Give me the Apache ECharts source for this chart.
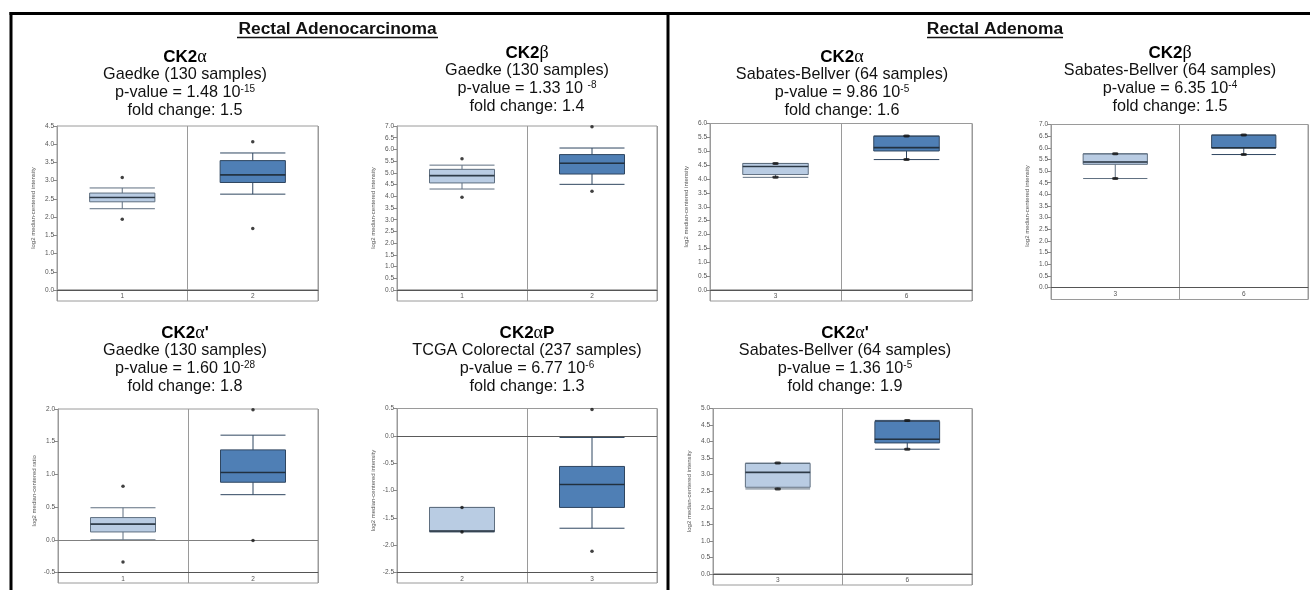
<!DOCTYPE html>
<html>
<head>
<meta charset="utf-8">
<title>CK2 subunit expression in rectal tumours</title>
<script src="https://cdn.jsdelivr.net/npm/echarts@6/dist/echarts.min.js"></script>
<style>
  html, body { margin: 0; padding: 0; background: #ffffff; }
  #chart { width: 1310px; height: 590px; }
</style>
</head>
<body>
<div id="chart"></div>
<script>
// ---- Data: one entry per panel, in reading order ----
const genes = ["CK2α", "CK2β", "CK2α", "CK2β", "CK2α'", "CK2αP", "CK2α'"];
const datasets = [
  "Gaedke (130 samples)", "Gaedke (130 samples)",
  "Sabates-Bellver (64 samples)", "Sabates-Bellver (64 samples)",
  "Gaedke (130 samples)", "TCGA Colorectal (237 samples)",
  "Sabates-Bellver (64 samples)"
];
const pValueBase = ["1.48 10", "1.33 10 ", "9.86 10", "6.35 10", "1.60 10", "6.77 10", "1.36 10"];
const pValueExponent = ["-15", "-8", "-5", "-4", "-28", "-6", "-5"];
const foldChanges = ["1.5", "1.4", "1.6", "1.5", "1.8", "1.3", "1.9"];
const classLabels = [["1", "2"], ["1", "2"], ["3", "6"], ["3", "6"], ["1", "2"], ["2", "3"], ["3", "6"]];
const yMin = [0, 0, 0, 0, -0.5, -2.5, 0];
const yMax = [4.5, 7, 6, 7, 2, 0.5, 5];
const yNames = [
  "log2 median-centered intensity", "log2 median-centered intensity",
  "log2 median-centered intensity", "log2 median-centered intensity",
  "log2 median-centered ratio", "log2 median-centered intensity",
  "log2 median-centered intensity"
];
// Box statistics [min, Q1, median, Q3, max]: normal tissue class, then tumour class
const normalBoxes = [
  [2.23, 2.42, 2.54, 2.66, 2.80],
  [4.31, 4.57, 4.88, 5.15, 5.33],
  [4.06, 4.16, 4.45, 4.56, 4.56],
  [4.68, 5.29, 5.39, 5.74, 5.74],
  [0.00, 0.12, 0.24, 0.34, 0.49],
  [-1.76, -1.75, -1.74, -1.31, -1.31],
  [2.57, 2.62, 3.07, 3.34, 3.35]
];
const tumorBoxes = [
  [2.63, 2.95, 3.16, 3.55, 3.76],
  [4.51, 4.95, 5.41, 5.78, 6.06],
  [4.70, 5.01, 5.13, 5.54, 5.55],
  [5.71, 5.99, 6.00, 6.54, 6.55],
  [0.69, 0.88, 1.03, 1.375, 1.60],
  [-1.69, -1.31, -0.89, -0.56, -0.03],
  [3.77, 3.96, 4.07, 4.61, 4.64]
];
// Extreme / outlying samples drawn as dots
const normalPoints = [[3.09, 1.94], [5.60, 3.96], [4.56, 4.06], [5.74, 4.68], [0.82, -0.34], [-1.31, -1.76], [3.35, 2.57]];
const tumorPoints = [[4.07, 1.69], [6.97, 4.21], [5.55, 4.70], [6.55, 5.71], [1.99, -0.01], [0.48, -2.11], [4.64, 3.77]];

// ---- Layout of each panel (plot box, class-label strip, title anchor, dot shape) ----
const panelLayout = [
  { left: 57,   top: 126,   width: 261, height: 164,   strip: 11,   tx: 185,  ty: 48,  dot: [3.5, 3.5] },
  { left: 397,  top: 126,   width: 260, height: 164,   strip: 11,   tx: 527,  ty: 44,  dot: [3.5, 3.5] },
  { left: 710,  top: 123.5, width: 262, height: 166.5, strip: 11,   tx: 842,  ty: 48,  dot: [6, 3] },
  { left: 1051, top: 124.5, width: 257, height: 163,   strip: 12,   tx: 1170, ty: 44,  dot: [6, 3] },
  { left: 58,   top: 409,   width: 260, height: 163.5, strip: 10.5, tx: 185,  ty: 324, dot: [3.5, 3.5] },
  { left: 397,  top: 408.5, width: 260, height: 164,   strip: 10.5, tx: 527,  ty: 324, dot: [3.5, 3.5] },
  { left: 713,  top: 408.5, width: 259, height: 165.5, strip: 11,   tx: 845,  ty: 324, dot: [6, 3] }
];

const FONT = '"Liberation Sans", Arial, Helvetica, sans-serif';
const SERIF = '"Liberation Serif", "Times New Roman", serif';
const frameGray = '#9a9a9a';
const lightFill = '#b9cce3';
const darkFill = '#4f7fb5';

const grids = [], xAxes = [], yAxes = [], series = [], titles = [];

panelLayout.forEach((L, i) => {
  const g = grids.length;
  // plot area
  grids.push({ left: L.left, top: L.top, width: L.width, height: L.height,
    show: true, borderColor: frameGray, borderWidth: 1, containLabel: false, outerBoundsMode: 'none' });
  // class-label strip below the plot
  grids.push({ left: L.left, top: L.top + L.height, width: L.width, height: L.strip,
    show: true, borderColor: frameGray, borderWidth: 1, containLabel: false, outerBoundsMode: 'none' });

  xAxes.push({
    type: 'category', gridIndex: g, data: classLabels[i], boundaryGap: true,
    axisLine: { show: true, onZero: false, lineStyle: { color: '#555', width: 1 } },
    axisTick: { show: false },
    axisLabel: { fontSize: 6.5, color: '#555', margin: 3, fontFamily: FONT },
    splitLine: { show: true, lineStyle: { color: frameGray, width: 1 } }
  });
  xAxes.push({
    type: 'category', gridIndex: g + 1, data: classLabels[i], boundaryGap: true,
    axisLine: { show: false }, axisTick: { show: false }, axisLabel: { show: false },
    splitLine: { show: true, lineStyle: { color: frameGray, width: 1 } }
  });
  yAxes.push({
    type: 'value', gridIndex: g, min: yMin[i], max: yMax[i], interval: 0.5,
    axisLine: { show: true, lineStyle: { color: frameGray } },
    axisTick: { show: true, length: 3.5, lineStyle: { color: '#888' } },
    axisLabel: { fontSize: 6.5, color: '#555', margin: 3, fontFamily: FONT,
      formatter: v => v.toFixed(1) },
    splitLine: { show: false },
    name: yNames[i], nameLocation: 'middle', nameGap: 21,
    nameTextStyle: { fontSize: 6, color: '#555', fontFamily: FONT }
  });
  yAxes.push({ type: 'value', gridIndex: g + 1, min: 0, max: 1, show: false });

  const xi = g, yi = g;
  series.push({
    type: 'boxplot', xAxisIndex: xi, yAxisIndex: yi,
    boxWidth: ['50%', '50%'],
    data: [
      { value: normalBoxes[i], itemStyle: { color: lightFill, borderColor: '#5f6f80', borderWidth: 1 } },
      { value: tumorBoxes[i], itemStyle: { color: darkFill, borderColor: '#2f4660', borderWidth: 1 } }
    ],
    silent: true
  });
  // median stroke across each box (box is half of the class band wide)
  const boxPx = L.width / classLabels[i].length * 0.5;
  series.push({
    type: 'scatter', xAxisIndex: xi, yAxisIndex: yi,
    data: [[0, normalBoxes[i][2]], [1, tumorBoxes[i][2]]],
    symbol: 'rect', symbolSize: [boxPx, 1.6],
    itemStyle: { color: '#1e2a36' }, silent: true, z: 4
  });
  const pts = [];
  normalPoints[i].forEach(v => pts.push([0, v]));
  tumorPoints[i].forEach(v => pts.push([1, v]));
  const dot = {
    type: 'scatter', xAxisIndex: xi, yAxisIndex: yi, data: pts,
    symbol: L.dot[0] > L.dot[1] ? 'roundRect' : 'circle', symbolSize: L.dot,
    itemStyle: { color: '#111' }, silent: true, z: 5
  };
  if (yMin[i] < 0) {
    dot.markLine = {
      silent: true, symbol: ['none', 'none'], label: { show: false },
      lineStyle: { color: i === 5 ? '#5a5a5a' : '#808080', width: 1, type: 'solid' },
      data: [{ yAxis: 0 }]
    };
  }
  series.push(dot);

  const gene = genes[i];
  const text = '{b|' + gene.slice(0, 3) + '}{g|' + gene[3] + '}' +
    (gene.length > 4 ? '{b|' + gene.slice(4) + '}' : '') +
    '\n{n|' + datasets[i] + '}' +
    '\n{n|p-value = ' + pValueBase[i] + '}{s|' + pValueExponent[i] + '}' +
    '\n{n|fold change: ' + foldChanges[i] + '}';
  titles.push({
    text: text, left: L.tx, top: L.ty, textAlign: 'center', padding: 0,
    textStyle: {
      fontWeight: 'normal',
      rich: {
        b: { fontSize: 17, fontWeight: 'bold', fontFamily: FONT, lineHeight: 18, color: '#000' },
        g: { fontSize: 18, fontWeight: 'normal', fontFamily: SERIF, lineHeight: 18, color: '#000' },
        n: { fontSize: 16.2, fontWeight: 'normal', fontFamily: FONT, lineHeight: 18, color: '#111' },
        s: { fontSize: 10, fontWeight: 'normal', fontFamily: FONT, lineHeight: 10, verticalAlign: 'top', color: '#111' }
      }
    }
  });
});

// Section headings
const sectionNames = ["Rectal Adenocarcinoma", "Rectal Adenoma"];
const sectionCenters = [337.5, 995];
sectionNames.forEach((name, k) => {
  titles.push({
    text: name, left: sectionCenters[k], top: 20.5, textAlign: 'center', padding: 0,
    textStyle: { fontSize: 17.4, fontWeight: 'bold', fontFamily: FONT, color: '#111' }
  });
});

const blackLine = { stroke: '#000', lineWidth: 3 };
const graphic = [
  { type: 'line', shape: { x1: 11, y1: 12, x2: 11, y2: 590 }, style: blackLine },
  { type: 'line', shape: { x1: 9.5, y1: 13.5, x2: 1310, y2: 13.5 }, style: blackLine },
  { type: 'line', shape: { x1: 668, y1: 12, x2: 668, y2: 590 }, style: blackLine },
  { type: 'line', shape: { x1: 237, y1: 37.5, x2: 438, y2: 37.5 }, style: { stroke: '#111', lineWidth: 1.5 } },
  { type: 'line', shape: { x1: 927, y1: 37.5, x2: 1063, y2: 37.5 }, style: { stroke: '#111', lineWidth: 1.5 } }
];

const chart = echarts.init(document.getElementById('chart'));
chart.setOption({
  animation: false,
  backgroundColor: '#ffffff',
  title: titles,
  grid: grids,
  xAxis: xAxes,
  yAxis: yAxes,
  series: series,
  graphic: graphic
});
</script>
</body>
</html>
